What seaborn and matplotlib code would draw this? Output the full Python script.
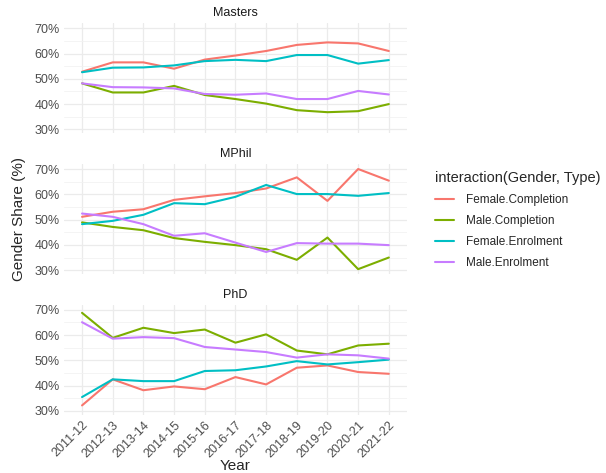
import numpy as np
import pandas as pd
import matplotlib
matplotlib.use("Agg")
import matplotlib.pyplot as plt
import seaborn as sns
from matplotlib.lines import Line2D
from matplotlib.ticker import FuncFormatter, MultipleLocator

years = ['2011-12', '2012-13', '2013-14', '2014-15', '2015-16', '2016-17',
         '2017-18', '2018-19', '2019-20', '2020-21', '2021-22']
programs = ['Masters', 'MPhil', 'PhD']
groups = ['Female.Completion', 'Male.Completion', 'Female.Enrolment', 'Male.Enrolment']

# gender shares (%)
masters_f_comp = [52.8, 56.5, 56.5, 54.0, 57.6, 59.2, 61.0, 63.4, 64.4, 64.0, 61.0]
masters_m_comp = [48.2, 44.6, 44.6, 47.2, 43.6, 42.0, 40.2, 37.6, 36.8, 37.2, 40.0]
masters_f_enr = [52.6, 54.4, 54.5, 55.3, 57.0, 57.5, 57.0, 59.4, 59.4, 56.0, 57.4]
masters_m_enr = [48.2, 46.7, 46.6, 46.2, 44.0, 43.7, 44.2, 42.0, 42.0, 45.2, 43.8]

mphil_f_comp = [51.1, 53.1, 54.1, 57.8, 59.2, 60.5, 62.3, 66.7, 57.4, 70.0, 65.4]
mphil_m_comp = [48.9, 47.1, 45.8, 42.7, 41.2, 39.9, 38.3, 34.1, 42.9, 30.4, 35.0]
mphil_f_enr = [48.2, 49.5, 51.9, 56.5, 56.1, 59.0, 63.7, 60.1, 60.1, 59.4, 60.5]
mphil_m_enr = [52.4, 51.1, 48.2, 43.6, 44.6, 40.9, 37.2, 40.7, 40.5, 40.5, 39.9]

phd_f_comp = [32.2, 42.5, 38.2, 39.7, 38.6, 43.4, 40.5, 47.1, 48.0, 45.4, 44.7]
phd_m_comp = [68.8, 58.9, 62.9, 60.8, 62.2, 57.0, 60.3, 53.9, 52.4, 55.9, 56.6]
phd_f_enr = [35.5, 42.5, 41.8, 41.8, 45.8, 46.1, 47.6, 49.7, 48.4, 49.3, 50.3]
phd_m_enr = [65.1, 58.6, 59.2, 58.8, 55.3, 54.3, 53.3, 51.1, 52.4, 52.0, 50.7]

values = {
    'Masters': [masters_f_comp, masters_m_comp, masters_f_enr, masters_m_enr],
    'MPhil': [mphil_f_comp, mphil_m_comp, mphil_f_enr, mphil_m_enr],
    'PhD': [phd_f_comp, phd_m_comp, phd_f_enr, phd_m_enr],
}

rows = []
for p in programs:
    for g, vals in zip(groups, values[p]):
        for y, v in zip(years, vals):
            rows.append({'Program': p, 'Group': g, 'Year': y, 'Share': v})
df = pd.DataFrame(rows)

colors = ['#F8766D', '#7CAE00', '#00BFC4', '#C77CFF']
pal = dict(zip(groups, colors))

sns.set_theme(style='white')
plt.rcParams['font.family'] = ['Liberation Sans', 'DejaVu Sans']

fig, axes = plt.subplots(3, 1, figsize=(6.06, 4.73), dpi=100, sharex=True)
fig.subplots_adjust(left=0.105, right=0.672, top=0.951, bottom=0.1226, hspace=0.277)

for ax, p in zip(axes, programs):
    sub = df[df.Program == p]
    sns.lineplot(data=sub, x='Year', y='Share', hue='Group', hue_order=groups,
                 palette=pal, ax=ax, legend=False, sort=False, linewidth=1.5)
    ax.set_xlim(-0.6, len(years) - 0.4)
    ax.set_ylim(28.4, 72.0)
    ax.yaxis.set_major_locator(MultipleLocator(10))
    ax.yaxis.set_minor_locator(MultipleLocator(5))
    ax.yaxis.set_major_formatter(FuncFormatter(lambda v, _: f'{int(v)}%'))
    ax.grid(which='major', color='#EBEBEB', linewidth=0.9)
    ax.grid(which='minor', axis='y', color='#F2F2F2', linewidth=0.6)
    ax.set_axisbelow(True)
    for s in ax.spines.values():
        s.set_visible(False)
    ax.tick_params(axis='both', length=0, labelsize=9, labelcolor='#4D4D4D', pad=3)
    ax.set_title(p, fontsize=9, color='#1A1A1A', pad=5)
    ax.set_xlabel('')
    ax.set_ylabel('')

axes[-1].set_xticks(range(len(years)))
axes[-1].set_xticklabels(years, rotation=45, ha='right', rotation_mode='anchor')
axes[-1].set_xlabel('Year', fontsize=11, labelpad=-1)
axes[1].set_ylabel('Gender Share (%)', fontsize=11, labelpad=6)

handles = [Line2D([0], [0], color=c, lw=1.5) for c in colors]
leg = fig.legend(handles, groups, title='interaction(Gender, Type)',
                 loc='upper left', bbox_to_anchor=(0.700, 0.66), frameon=False,
                 fontsize=8.5, title_fontsize=10.5, handlelength=1.6,
                 labelspacing=0.75, handletextpad=1.0)
leg._legend_box.align = 'left'

fig.savefig('out.png', dpi=100)
